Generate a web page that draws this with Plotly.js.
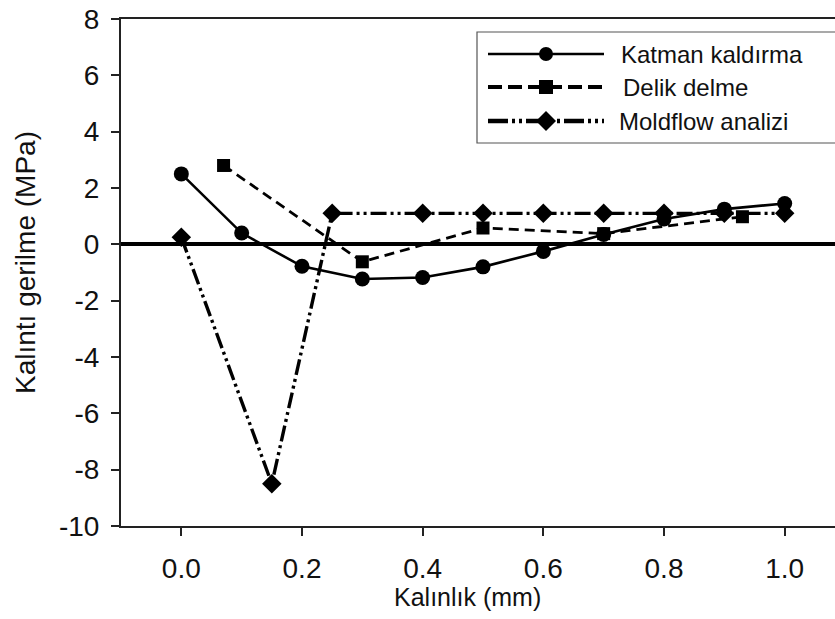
<!DOCTYPE html>
<html>
<head>
<meta charset="utf-8">
<script src="https://cdn.plot.ly/plotly-3.0.1.min.js"></script>
<style>
  html, body { margin: 0; padding: 0; overflow: hidden; background: #fff; }
  #chart { width: 850px; height: 619px; }
</style>
</head>
<body>
<div id="chart"></div>
<script>
// Residual stress through the thickness: three measurement / simulation methods
const katmanX = [0, 0.1, 0.2, 0.3, 0.4, 0.5, 0.6, 0.7, 0.8, 0.9, 1.0];
const katmanY = [2.5, 0.4, -0.78, -1.23, -1.18, -0.8, -0.25, 0.35, 0.9, 1.25, 1.45];

const delikX = [0.07, 0.3, 0.5, 0.7, 0.93];
const delikY = [2.8, -0.62, 0.58, 0.38, 0.98];

const moldX = [0, 0.15, 0.25, 0.4, 0.5, 0.6, 0.7, 0.8, 0.9, 1.0];
const moldY = [0.25, -8.5, 1.1, 1.1, 1.1, 1.1, 1.1, 1.1, 1.1, 1.1];

const seriesNames = ["Katman kaldırma", "Delik delme", "Moldflow analizi"];
const xTitle = "Kalınlık (mm)";
const yTitle = "Kalıntı gerilme (MPa)";

const xTickVals = [0, 0.2, 0.4, 0.6, 0.8, 1.0];
const xTickText = ["0.0", "0.2", "0.4", "0.6", "0.8", "1.0"];
const yTickVals = [-10, -8, -6, -4, -2, 0, 2, 4, 6, 8];
const yTickText = ["-10", "-8", "-6", "-4", "-2", "0", "2", "4", "6", "8"];

const FONT = "Arial, 'Liberation Sans', sans-serif";

// plot-area geometry in pixels, used to place the hand-drawn legend box
const W = 850, H = 619;
const M = { l: 121, r: 5, t: 19, b: 93 };
const pw = W - M.l - M.r, ph = H - M.t - M.b;
const px = v => (v - M.l) / pw;
const py = v => (H - M.b - v) / ph;

const styles = [
  { dash: "solid", width: 2.6, symbol: "circle", size: 15 },
  { dash: "10px,6px", width: 2.8, symbol: "square", size: 13 },
  { dash: "16px,4px,3px,4px,3px,4px", width: 3.4, symbol: "diamond", size: 15 }
];

const traces = [
  { x: moldX, y: moldY, s: styles[2], name: seriesNames[2] },
  { x: katmanX, y: katmanY, s: styles[0], name: seriesNames[0] },
  { x: delikX, y: delikY, s: styles[1], name: seriesNames[1] }
].map(t => ({
  type: "scatter", mode: "lines+markers", name: t.name,
  x: t.x, y: t.y, showlegend: false, cliponaxis: false,
  line: { color: "#000", width: t.s.width, dash: t.s.dash },
  marker: { color: "#000", symbol: t.s.symbol, size: t.s.size }
}));

// legend box drawn with shapes/annotations (long sample lines)
const shapes = [];
const annotations = [];
const legBox = { x0: 477, x1: 849, y0: 32, y1: 143 };
shapes.push({
  type: "rect", xref: "paper", yref: "paper",
  x0: px(legBox.x0), x1: px(legBox.x1), y0: py(legBox.y1), y1: py(legBox.y0),
  line: { color: "#555", width: 1.2 }, fillcolor: "#fff", layer: "above"
});
const rows = [54, 87, 121];
const textX = [619, 621, 617];
const legDash = ["solid", "14px,6px", "20px,4px,3px,4px,3px,4px"];
const legWidth = [2.6, 4, 4.5];
[0, 1, 2].forEach(i => {
  const yy = rows[i];
  shapes.push({
    type: "line", xref: "paper", yref: "paper", layer: "above",
    x0: px(488), x1: px(604), y0: py(yy), y1: py(yy),
    line: { color: "#000", width: legWidth[i], dash: legDash[i] }
  });
  const cx = 546, r = 7;
  if (i === 0) {
    shapes.push({ type: "circle", xref: "paper", yref: "paper", layer: "above",
      x0: px(cx - r), x1: px(cx + r), y0: py(yy + r), y1: py(yy - r),
      fillcolor: "#000", line: { color: "#000", width: 0 } });
  } else if (i === 1) {
    shapes.push({ type: "rect", xref: "paper", yref: "paper", layer: "above",
      x0: px(cx - r), x1: px(cx + r), y0: py(yy + r), y1: py(yy - r),
      fillcolor: "#000", line: { color: "#000", width: 0 } });
  } else {
    const d = 10;
    shapes.push({ type: "path", xref: "paper", yref: "paper", layer: "above",
      path: `M ${px(cx - d)} ${py(yy)} L ${px(cx)} ${py(yy - d)} L ${px(cx + d)} ${py(yy)} L ${px(cx)} ${py(yy + d)} Z`,
      fillcolor: "#000", line: { color: "#000", width: 0 } });
  }
  annotations.push({
    xref: "paper", yref: "paper", x: px(textX[i]), y: py(yy),
    xanchor: "left", yanchor: "middle", showarrow: false,
    text: seriesNames[i], font: { family: FONT, size: 24, color: "#111" }
  });
});

// axis titles
annotations.push({
  xref: "paper", yref: "paper", x: px(467), y: py(597),
  xanchor: "center", yanchor: "middle", showarrow: false,
  text: xTitle, font: { family: FONT, size: 25, color: "#111" }
});
annotations.push({
  xref: "paper", yref: "paper", x: px(25), y: py(263),
  xanchor: "center", yanchor: "middle", showarrow: false, textangle: -90,
  text: yTitle, font: { family: FONT, size: 28, color: "#111" }
});

const layout = {
  width: W, height: H,
  margin: M,
  paper_bgcolor: "#fff", plot_bgcolor: "#fff",
  font: { family: FONT, color: "#111" },
  showlegend: false,
  xaxis: {
    range: [-0.1, 1.1], tickmode: "array", tickvals: xTickVals, ticktext: xTickText,
    ticks: "outside", ticklen: 8, tickwidth: 2, tickcolor: "#222",
    showline: true, linewidth: 2, linecolor: "#222", mirror: true,
    showgrid: false, zeroline: false,
    tickfont: { family: FONT, size: 28, color: "#111" }, ticklabelstandoff: 8
  },
  yaxis: {
    range: [-10, 8], tickmode: "array", tickvals: yTickVals, ticktext: yTickText,
    ticks: "outside", ticklen: 8, tickwidth: 2, tickcolor: "#222",
    showline: true, linewidth: 2, linecolor: "#222", mirror: true,
    showgrid: false, zeroline: true, zerolinewidth: 4, zerolinecolor: "#000",
    tickfont: { family: FONT, size: 28, color: "#111" }, ticklabelstandoff: 6
  },
  shapes: shapes,
  annotations: annotations
};

Plotly.newPlot("chart", traces, layout, { displayModeBar: false, staticPlot: true });
</script>
</body>
</html>
